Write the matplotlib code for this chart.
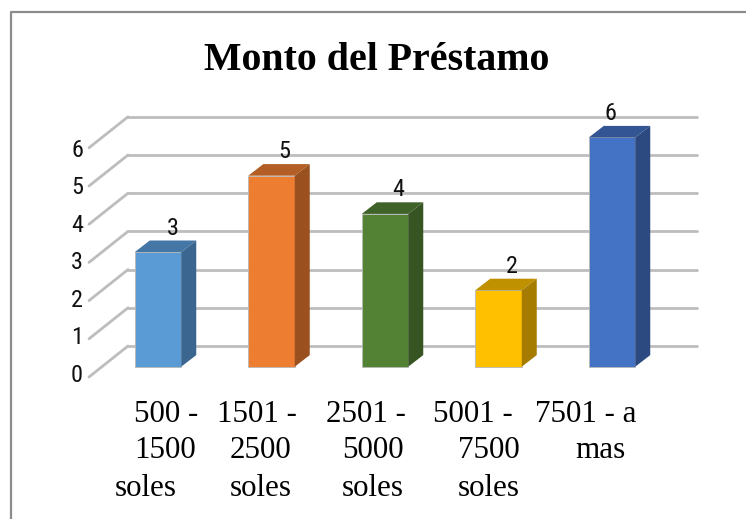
import matplotlib
matplotlib.use("Agg")
import matplotlib.pyplot as plt
from matplotlib.patches import Polygon

# Datos
categorias = [
    ["500 -", "1500", "soles"],
    ["1501 -", "2500", "soles"],
    ["2501 -", "5000", "soles"],
    ["5001 -", "7500", "soles"],
    ["7501 - a", "mas"],
]
valores = [3, 5, 4, 2, 6]
ticks = [0, 1, 2, 3, 4, 5, 6]
titulo = "Monto del Préstamo"

frente = ["#5B9BD5", "#ED7D31", "#548235", "#FFC000", "#4472C4"]
arriba = ["#4477A6", "#B25E24", "#3F6228", "#BF9000", "#335593"]
lado = ["#3B668F", "#9A511F", "#375522", "#A67C00", "#2C4A80"]

W, H = 746, 519
PX_X = 113.5   # pixeles por categoria
PX_Y = 38.2    # pixeles por unidad
X0, Y0 = 158.0, 366.7
NARROW = ["Roboto Condensed", "Liberation Sans"]


def colx(p):
    return (p - X0) / PX_X


def fila(p):
    return (Y0 - p) / PX_Y


fig = plt.figure(figsize=(W / 100, H / 100), dpi=100, facecolor="white")
ax = fig.add_axes([0, 0, 1, 1])
ax.set_xlim(colx(0), colx(W))
ax.set_ylim(fila(H), fila(0))
ax.axis("off")

# Rejilla: pared del fondo y diagonal del piso
gris = "#BDBDBD"
alto_fondo = 20.7 / PX_Y
alto_frente = -10.3 / PX_Y
for t in ticks:
    ax.plot([colx(128), colx(697)], [t + alto_fondo, t + alto_fondo],
            color=gris, lw=2.0, zorder=1, solid_capstyle="round")
    ax.plot([colx(89), colx(128)], [t + alto_frente, t + alto_fondo],
            color=gris, lw=2.0, zorder=1, solid_capstyle="round")
    ax.text(colx(77), fila(375 - 37.4 * t), str(t), ha="center", va="center",
            fontsize=17.5, family=NARROW, color="#111111")

# Barras 3D
ancho = 46.5 / PX_X
prof_x, prof_y = 15 / PX_X, 11.6 / PX_Y
desp_etiqueta = [15, 13, 13, 13, -2]
for i, v in enumerate(valores):
    x1 = i - ancho / 2
    x2 = i + ancho / 2
    ax.add_patch(Polygon([(x1, 0), (x2, 0), (x2, v), (x1, v)],
                         fc=frente[i], ec="#B8B8B8", lw=0.6, zorder=3))
    ax.add_patch(Polygon([(x1, v), (x2, v), (x2 + prof_x, v + prof_y), (x1 + prof_x, v + prof_y)],
                         fc=arriba[i], ec="none", zorder=3))
    ax.add_patch(Polygon([(x2, 0), (x2 + prof_x, prof_y), (x2 + prof_x, v + prof_y), (x2, v)],
                         fc=lado[i], ec="none", zorder=3))
    ax.text(i + desp_etiqueta[i] / PX_X, v + 24 / PX_Y, str(v), ha="center", va="center",
            fontsize=17.5, family=NARROW, color="#111111", zorder=4)

# Etiquetas del eje (cada linea con su sangria, como en el original)
izq = [[134, 134, 115], [217, 230, 230], [326, 342, 342], [433, 458, 458], [535, 575]]
filas = [415, 451, 488]
for col, pos in zip(categorias, izq):
    for linea, px, f in zip(col, pos, filas):
        ax.text(colx(px), fila(f), linea, ha="left", va="center",
                fontsize=22.3, family="Liberation Serif", color="black")

ax.text(colx(377), fila(61), titulo, ha="center", va="center",
        fontsize=28.7, fontweight="bold", family="Liberation Serif", color="black")

# Borde
ax.plot([colx(11), colx(11), colx(746)], [fila(519), fila(12), fila(12)],
        color="#8C8C8C", lw=1.6, zorder=5)

fig.savefig("out.png", dpi=100, facecolor="white")
